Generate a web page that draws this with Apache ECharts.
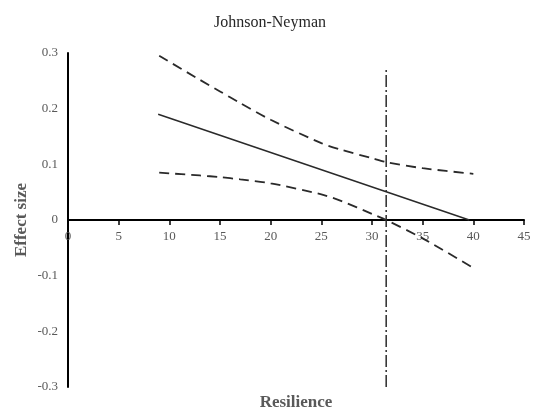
<!DOCTYPE html>
<html>
<head>
<meta charset="utf-8">
<script src="https://cdn.jsdelivr.net/npm/echarts@6/dist/echarts.min.js"></script>
<style>html,body{margin:0;padding:0;background:#fff}#c{width:542px;height:410px}</style>
</head>
<body>
<div id="c"></div>
<script>
// Data
const resX     = [9, 13, 15, 17, 20, 25, 27, 30, 31.4, 35, 40];
const upperCI  = [0.295, 0.252, 0.231, 0.210, 0.180, 0.138, 0.126, 0.111, 0.104, 0.093, 0.083];
const lowerCI  = [0.085, 0.080, 0.077, 0.073, 0.066, 0.046, 0.034, 0.011, 0.000, -0.033, -0.086];
const effectX  = [8.9, 39.6];
const effectY  = [0.190, 0.000];
const jnX      = [31.4, 31.4];
const jnY      = [-0.3, 0.27];
const xTicks   = [0, 45, 5];
const yTicks   = [-0.3, 0.3, 0.1];

const zip = (a, b) => a.map((v, i) => [v, b[i]]);
const serif = '"Liberation Serif", "DejaVu Serif", serif';
const chart = echarts.init(document.getElementById('c'));
chart.setOption({
  animation: false,
  title: {
    text: 'Johnson-Neyman', left: 265, top: 10, textAlign: 'center',
    textStyle: { fontFamily: serif, fontSize: 16, fontWeight: 'normal', color: '#262626' }
  },
  grid: { left: 68, right: 18, top: 53, bottom: 23, containLabel: false, outerBoundsMode: 'none' },
  xAxis: {
    type: 'value', min: xTicks[0], max: xTicks[1], interval: xTicks[2],
    position: 'bottom', offset: -167,
    name: 'Resilience', nameLocation: 'middle', nameGap: 174, nameMoveOverlap: false,
    nameTextStyle: { fontFamily: serif, fontSize: 17, fontWeight: 'bold', color: '#595959', verticalAlign: 'top' },
    axisLine: { onZero: false, lineStyle: { color: '#000', width: 2 } },
    axisTick: { show: true, length: 5, lineStyle: { color: '#000', width: 1.5 } },
    axisLabel: { fontFamily: serif, fontSize: 13, color: '#595959', margin: 10 },
    splitLine: { show: false }
  },
  yAxis: {
    type: 'value', min: yTicks[0], max: yTicks[1], interval: yTicks[2],
    name: 'Effect size', nameLocation: 'middle', nameGap: 38, nameMoveOverlap: false,
    nameTextStyle: { fontFamily: serif, fontSize: 17, fontWeight: 'bold', color: '#595959' },
    axisLine: { show: true, onZero: false, lineStyle: { color: '#000', width: 2 } },
    axisTick: { show: false },
    axisLabel: {
      fontFamily: serif, fontSize: 13, color: '#595959', margin: 10,
      formatter: v => (Math.abs(v) < 1e-9 ? '0' : v.toFixed(1))
    },
    splitLine: { show: false }
  },
  series: [
    { type: 'line', data: zip(resX, upperCI), smooth: 0.25, symbol: 'none',
      lineStyle: { color: '#2a2a2a', width: 1.8, type: [10, 6] } },
    { type: 'line', data: zip(resX, lowerCI), smooth: 0.25, symbol: 'none',
      lineStyle: { color: '#2a2a2a', width: 1.8, type: [10, 6] } },
    { type: 'line', data: zip(effectX, effectY), symbol: 'none',
      lineStyle: { color: '#2a2a2a', width: 1.5 } },
    { type: 'line', data: zip(jnX, jnY), symbol: 'none',
      lineStyle: { color: '#2a2a2a', width: 1.5, type: [12, 3, 2, 3] } }
  ]
});
</script>
</body>
</html>
